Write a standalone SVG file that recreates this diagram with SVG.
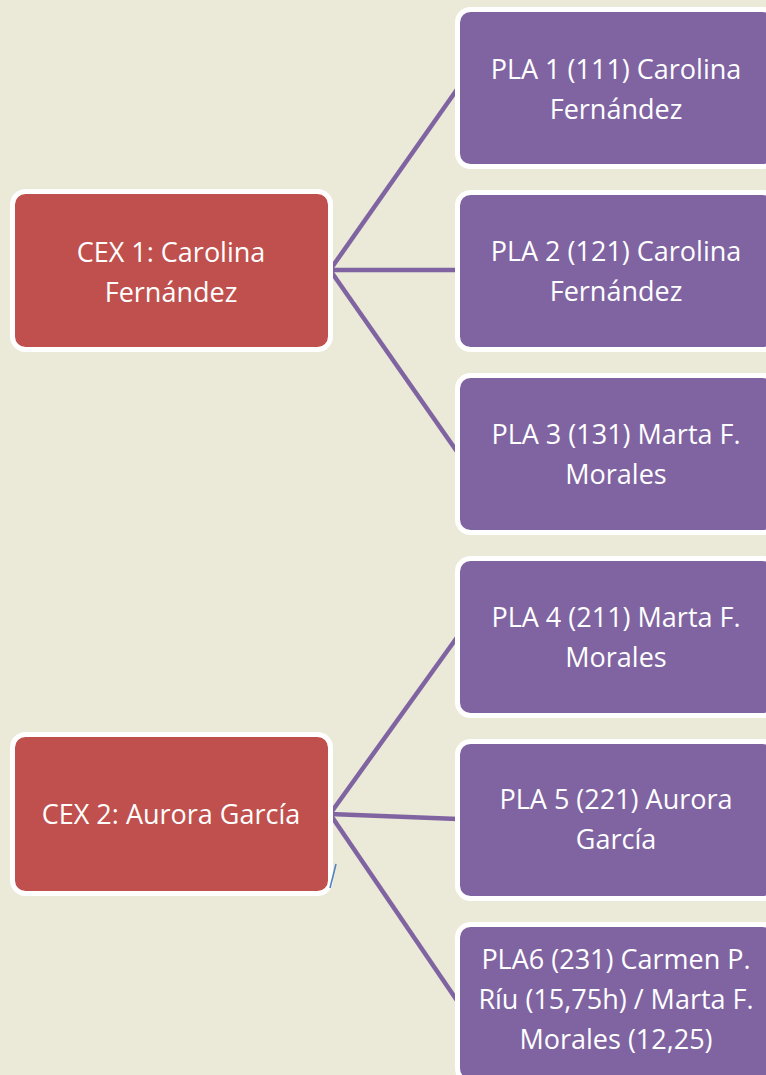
<svg xmlns="http://www.w3.org/2000/svg" width="766" height="1075" viewBox="0 0 766 1075">
<style>
.cex{fill:#C0504D;stroke:#FFFFFF;stroke-width:5}
.pla{fill:#8064A2;stroke:#FFFFFF;stroke-width:5}
.t{font-family:"Open Sans","Noto Sans",sans-serif;font-size:27px;fill:#FFFFFF;text-anchor:middle}
.c{stroke:#8064A2;stroke-width:4.5;fill:none}
</style>
<rect width="766" height="1075" fill="#EBE9D7"/>
<g id="connectors">
<line class="c" x1="330" y1="270" x2="458" y2="88"/>
<line class="c" x1="330" y1="270" x2="458" y2="270"/>
<line class="c" x1="330" y1="270" x2="458" y2="453"/>
<line class="c" x1="330" y1="814" x2="458" y2="636"/>
<line class="c" x1="330" y1="814" x2="458" y2="819"/>
<line class="c" x1="330" y1="814" x2="458" y2="1002"/>
</g>
<g id="cex1"><rect class="cex" x="12.5" y="191.5" width="318" height="158" rx="13"/>
<text class="t" x="171" y="262">CEX 1: Carolina</text><text class="t" x="171" y="302">Fernández</text></g>
<g id="cex2"><rect class="cex" x="12.5" y="734.5" width="318" height="159" rx="13"/>
<text class="t" x="171" y="824">CEX 2: Aurora García</text></g>
<line x1="336" y1="864" x2="330" y2="888" stroke="#4F81BD" stroke-width="1.5"/>
<g id="pla1"><rect class="pla" x="457.5" y="9.5" width="318" height="157" rx="13"/>
<text class="t" x="616" y="79">PLA 1 (111) Carolina</text><text class="t" x="616" y="119">Fernández</text></g>
<g id="pla2"><rect class="pla" x="457.5" y="192.5" width="318" height="157" rx="13"/>
<text class="t" x="616" y="261">PLA 2 (121) Carolina</text><text class="t" x="616" y="301">Fernández</text></g>
<g id="pla3"><rect class="pla" x="457.5" y="375.5" width="318" height="157" rx="13"/>
<text class="t" x="616" y="444">PLA 3 (131) Marta F.</text><text class="t" x="616" y="484">Morales</text></g>
<g id="pla4"><rect class="pla" x="457.5" y="558.5" width="318" height="157" rx="13"/>
<text class="t" x="616" y="627">PLA 4 (211) Marta F.</text><text class="t" x="616" y="667">Morales</text></g>
<g id="pla5"><rect class="pla" x="457.5" y="741.5" width="318" height="157" rx="13"/>
<text class="t" x="616" y="809">PLA 5 (221) Aurora</text><text class="t" x="616" y="849">García</text></g>
<g id="pla6"><rect class="pla" x="457.5" y="924.5" width="318" height="157" rx="13"/>
<text class="t" x="616" y="969">PLA6 (231) Carmen P.</text><text class="t" x="616" y="1009">Ríu (15,75h) / Marta F.</text><text class="t" x="616" y="1049">Morales (12,25)</text></g>
</svg>
